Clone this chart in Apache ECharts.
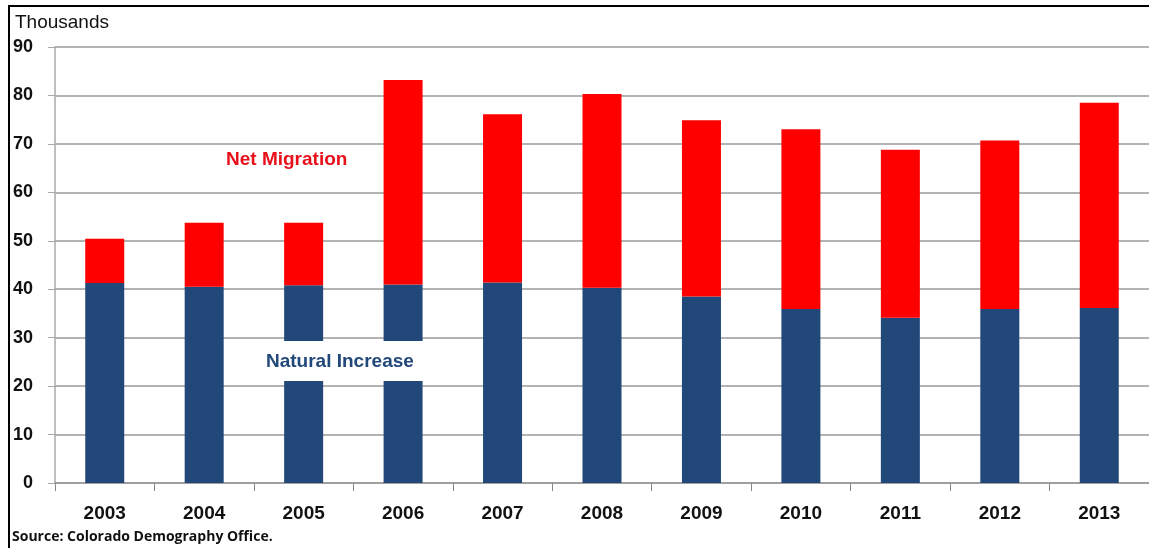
<!DOCTYPE html>
<html>
<head>
<meta charset="utf-8">
<script src="https://cdn.jsdelivr.net/npm/echarts@6/dist/echarts.min.js"></script>
<style>
  html, body { margin: 0; padding: 0; background: #fff; }
  #chart { width: 1149px; height: 548px; }
</style>
</head>
<body>
<div id="chart"></div>
<script>
// Colorado population change components, thousands of people
const years = ['2003', '2004', '2005', '2006', '2007', '2008', '2009', '2010', '2011', '2012', '2013'];
const naturalIncrease = [41.3, 40.5, 40.8, 41.0, 41.4, 40.3, 38.5, 35.9, 34.1, 35.9, 36.1];
const netMigration = [9.1, 13.2, 12.9, 42.2, 34.7, 40.0, 36.4, 37.1, 34.7, 34.8, 42.4];
const yTicks = { min: 0, max: 90, interval: 10 };

const FONT = '"Liberation Sans", Arial, sans-serif';
const chart = echarts.init(document.getElementById('chart'));

chart.setOption({
  animation: false,
  backgroundColor: '#fff',
  grid: { left: 55, top: 47, width: 1098, height: 436, containLabel: false },
  xAxis: {
    type: 'category',
    data: years,
    axisLine: { lineStyle: { color: '#999', width: 1.5 } },
    axisTick: { show: true, length: 8, lineStyle: { color: '#888' } },
    axisLabel: { color: '#111', fontFamily: FONT, fontWeight: 'bold', fontSize: 19, margin: 21 }
  },
  yAxis: {
    type: 'value',
    min: yTicks.min, max: yTicks.max, interval: yTicks.interval,
    axisLine: { show: true, lineStyle: { color: '#aaa', width: 1.5 } },
    axisTick: { show: true, length: 7, lineStyle: { color: '#aaa' } },
    axisLabel: { color: '#111', fontFamily: FONT, fontWeight: 'bold', fontSize: 18, margin: 22 },
    splitLine: { lineStyle: { color: '#9a9a9a', width: 1.5 } }
  },
  series: [
    {
      name: 'Natural Increase', type: 'bar', stack: 'total', barWidth: 39,
      data: naturalIncrease, itemStyle: { color: '#22487a' }
    },
    {
      name: 'Net Migration', type: 'bar', stack: 'total', barWidth: 39,
      data: netMigration, itemStyle: { color: '#ff0000' }
    }
  ],
  graphic: [
    // outer frame
    { type: 'rect', z: 100, shape: { x: 9, y: 6, width: 1160, height: 560 },
      style: { fill: null, stroke: '#000', lineWidth: 2 } },
    { type: 'text', z: 100, left: 15, top: 13,
      style: { text: 'Thousands', font: '19px ' + FONT, fill: '#111' } },
    { type: 'text', z: 100, left: 226, top: 150,
      style: { text: 'Net Migration', font: 'bold 19px ' + FONT, fill: '#e8101a' } },
    // white backing behind the series label
    { type: 'rect', z: 99, shape: { x: 252, y: 341, width: 176, height: 40 },
      style: { fill: '#fff' } },
    { type: 'text', z: 100, left: 266, top: 352,
      style: { text: 'Natural Increase', font: 'bold 19px ' + FONT, fill: '#22487a' } },
    { type: 'text', z: 100, left: 12, top: 530,
      style: { text: 'Source: Colorado Demography Office.', font: 'bold 14px "Open Sans", sans-serif', fill: '#111' } }
  ]
});
</script>
</body>
</html>
